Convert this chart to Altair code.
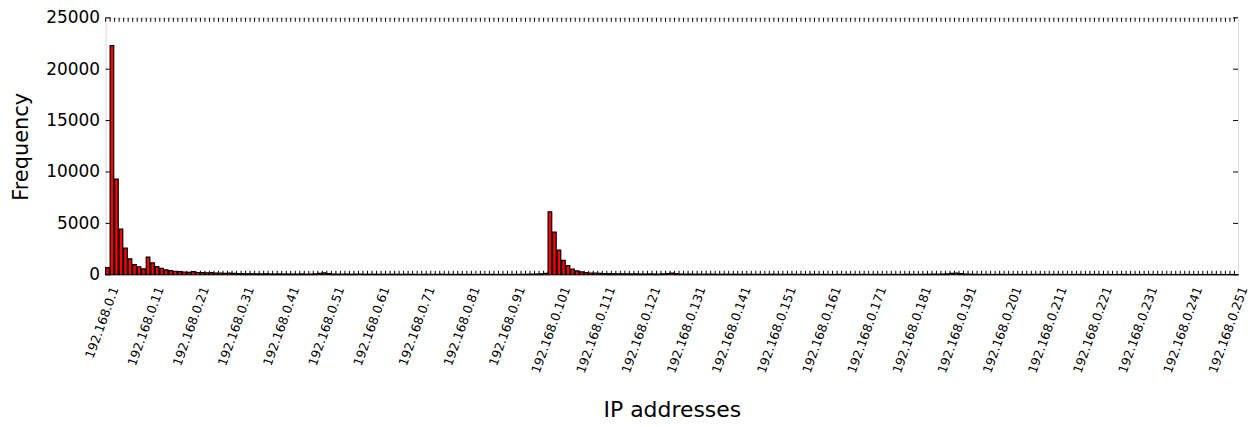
import altair as alt
import pandas as pd

# host part of each address 192.168.0.N (N = 1 .. 251)
host_numbers = list(range(1, 252))
ip_addresses = ["192.168.0.%d" % n for n in host_numbers]

counts = [
    700, 22300, 9300, 4450, 2600, 1550, 980, 780, 580, 1720,
    1150, 800, 620, 480, 400, 340, 300, 270, 240, 300,
    220, 200, 180, 210, 160, 150, 140, 160, 130, 120,
    110, 95, 100, 90, 85, 95, 80, 75, 85, 70,
    75, 70, 65, 80, 60, 70, 90, 140, 180, 120,
    70, 60, 55, 65, 50, 60, 55, 45, 50, 55,
    45, 50, 40, 55, 45, 40, 50, 45, 40, 35,
    45, 40, 35, 40, 50, 35, 40, 30, 45, 35,
    40, 35, 30, 40, 35, 45, 30, 35, 40, 30,
    35, 40, 45, 50, 60, 70, 90,
    130,
    6130, 4150, 2400, 1400, 900, 560, 380, 280, 210, 170, 150, 130,
    120, 110, 100, 95, 90, 85, 80, 90, 75, 70,
    80, 70, 65, 90, 120, 150, 110, 70, 60, 65,
    55, 60, 50, 55, 60, 45, 50, 55, 45, 50,
    40, 45, 50, 40, 45, 35, 40, 50, 45, 40,
    35, 40, 45, 35, 40, 30, 45, 40, 35, 40,
    30, 35, 40, 30, 45, 35, 30, 40, 35, 30,
    40, 35, 30, 35, 40, 30, 35, 45, 40, 35,
    40, 45, 50, 60, 55, 70, 90, 130, 160, 110,
    70, 55, 45, 40, 35, 40, 30, 35, 40, 30,
    35, 30, 40, 35, 30, 35, 40, 30, 35, 30,
    30, 35, 30, 25, 30, 35, 30, 25, 30, 35,
    30, 25, 30, 25, 30, 35, 25, 30, 25, 30,
    25, 30, 25, 20, 25, 30, 25, 20, 25, 30,
    25, 20, 25, 20, 25, 30, 20, 25, 20, 25, 20,
]

y_tick_values = [0, 5000, 10000, 15000, 20000, 25000]
x_tick_positions = list(range(0, 251, 10))
x_tick_labels = [ip_addresses[i] for i in x_tick_positions]

W, H = 1137, 258
FONT = "DejaVu Sans"

df = pd.DataFrame({
    "idx": list(range(len(counts))),
    "ip": ip_addresses,
    "count": counts,
})
yt = pd.DataFrame({"v": y_tick_values})

label_expr = "[" + ",".join("'%s'" % s for s in x_tick_labels) + "][round(datum.value/10)]"

x_scale = alt.Scale(domain=[0, 250.8], nice=False, zero=False)
y_scale = alt.Scale(domain=[0, 25000], nice=False)

bars = alt.Chart(df).transform_calculate(
    x2="datum.idx + 0.8"
).mark_bar(color="#ff0000", stroke="black", strokeWidth=1.2).encode(
    x=alt.X("idx:Q", scale=x_scale, axis=alt.Axis(
        values=x_tick_positions, labelExpr=label_expr, labelAngle=-70,
        labelAlign="right", labelBaseline="middle", labelOffset=9,
        labelPadding=12, labelFontSize=12.5, labelFont=FONT, labelColor="black",
        labelOverlap=False, labelFlush=False, labelBound=False,
        ticks=False, domain=False, grid=False,
        title="IP addresses", titleFont=FONT, titleFontSize=22,
        titleFontWeight="normal", titleColor="black",
        titleY=142, titleBaseline="alphabetic")),
    x2="x2:Q",
    y=alt.Y("count:Q", scale=y_scale, axis=alt.Axis(
        values=y_tick_values, format="d", labelFontSize=17, labelFont=FONT,
        labelColor="black", labelPadding=6, ticks=False, domain=False,
        grid=False, title="Frequency", titleFont=FONT, titleFontSize=21,
        titleFontWeight="normal", titleColor="black", titleAngle=-90,
        titleX=-78, titleY=129, titleBaseline="alphabetic", titleAlign="center")),
    y2=alt.datum(0),
)

tick_bottom = alt.Chart(df).mark_rule(color="black", strokeWidth=1).encode(
    x=alt.X("idx:Q", scale=x_scale), y=alt.value(H), y2=alt.value(H - 4))
tick_top = alt.Chart(df).mark_rule(color="black", strokeWidth=1).encode(
    x=alt.X("idx:Q", scale=x_scale), y=alt.value(0), y2=alt.value(4))
ytick_left = alt.Chart(yt).mark_rule(color="black", strokeWidth=1).encode(
    y=alt.Y("v:Q", scale=y_scale), x=alt.value(0), x2=alt.value(5))
ytick_right = alt.Chart(yt).mark_rule(color="black", strokeWidth=1).encode(
    y=alt.Y("v:Q", scale=y_scale), x=alt.value(W), x2=alt.value(W - 5))

chart = alt.layer(bars, tick_bottom, tick_top, ytick_left, ytick_right).properties(
    width=W, height=H,
    autosize=alt.AutoSizeParams(type="none"),
    padding={"left": 98, "top": 9, "right": 12, "bottom": 148},
).configure_view(stroke="black", strokeWidth=1.5).configure(background="white")

chart.save("out.html", embed_options={"renderer": "svg", "actions": False})
